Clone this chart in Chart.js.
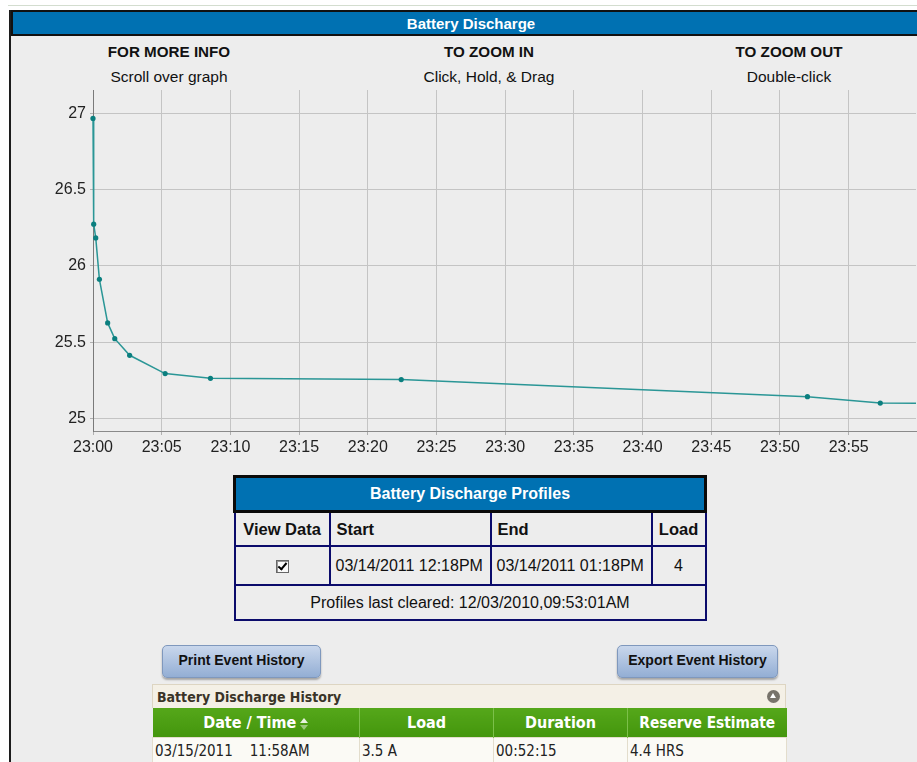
<!DOCTYPE html>
<html>
<head>
<meta charset="utf-8">
<script src="https://cdn.jsdelivr.net/npm/chart.js@4.4.1/dist/chart.umd.min.js"></script>
<style>
html,body{margin:0;padding:0;background:#fff;overflow:hidden;width:917px;height:762px;}
body{position:relative;font-family:"Liberation Sans",Arial,sans-serif;}
.abs{position:absolute;}
#topline{left:8px;top:5px;width:920px;height:1px;background:#d3ddcf;}
#frame{left:9px;top:10px;width:930px;height:800px;background:#ededed;border-left:2px solid #1c1c1c;}
#hdr{left:11px;top:10px;width:916px;height:22px;background:#0071b2;border:2px solid #111;border-right:none;color:#fff;font-weight:bold;font-size:15px;line-height:23px;text-align:center;}
.hint{width:240px;text-align:center;color:#111;}
.hint b{display:block;font-size:15.2px;line-height:18px;}
.hint span{display:block;font-size:15.5px;line-height:18px;margin-top:7px;}
#chartBox{left:11px;top:86px;width:909px;height:371px;}
#prof{left:233px;top:475px;width:471px;height:146px;}
#prof table{border-collapse:collapse;table-layout:fixed;width:471px;height:146px;border:2px solid #0b0b6b;font-size:16px;color:#111;}
#prof td{border:2px solid #0b0b6b;padding:0 6px;white-space:nowrap;}
#prof .ph{background:#0071b2;color:#fff;font-weight:bold;text-align:center;border:3px solid #0a0a0a;height:32px;}
#prof .ch td{font-weight:bold;height:32px;font-size:16.5px;}
#prof .dr td{height:37px;}
.cb{display:inline-block;width:11px;height:11px;border:1px solid #666;background:#fafafa;position:relative;vertical-align:middle;box-shadow:inset 1px 1px 0 #999;}
.cb:after{content:"";position:absolute;left:3px;top:0px;width:3px;height:7px;border:solid #000;border-width:0 2px 2px 0;transform:rotate(40deg);}
.btn{height:31px;border:1px solid #7f98bd;border-radius:5px;background:linear-gradient(#c9d7ec,#93aed4);box-shadow:0 2px 2px rgba(0,0,0,0.3);font-family:"Liberation Sans Narrow","Liberation Sans",Arial,sans-serif;font-weight:bold;font-size:14px;color:#111;text-align:center;line-height:29px;}
#hist{left:152px;top:684px;width:634px;font-family:"DejaVu Sans Condensed","DejaVu Sans",sans-serif;}
#htitle{height:23px;background:#f4f0e6;border:1px solid #ddd5c2;border-bottom:none;font-weight:bold;font-size:14px;color:#3a3428;line-height:24px;padding-left:4px;position:relative;}
#htitle i{position:absolute;right:5px;top:5px;width:13px;height:13px;border-radius:50%;background:#77736b;}
#htitle i:after{content:"";position:absolute;left:3px;top:3px;border-left:3.5px solid transparent;border-right:3.5px solid transparent;border-bottom:5px solid #fff;}
#hist table{border-collapse:collapse;table-layout:fixed;width:634px;}
#hist th{background:linear-gradient(#55a71a,#44960d);color:#fff;font-size:16px;font-weight:bold;height:29px;padding:0;border-left:1px solid #7cc04a;}
#hist td{background:#fbfaf5;border:1px solid #e3ddcc;font-size:15px;color:#222;height:25px;padding:0 0 0 2px;white-space:nowrap;}
.sort{display:inline-block;width:8px;height:12px;position:relative;vertical-align:middle;margin-left:4px;}
.sort:before{content:"";position:absolute;left:0;top:0;border-left:4px solid transparent;border-right:4px solid transparent;border-bottom:5px solid #e8f2e0;}
.sort:after{content:"";position:absolute;left:0;top:7px;border-left:4px solid transparent;border-right:4px solid transparent;border-top:5px solid #9cc87c;}
</style>
</head>
<body>
<div id="topline" class="abs"></div>
<div id="frame" class="abs"></div>
<div id="hdr" class="abs">Battery Discharge</div>

<div class="abs hint" style="left:49px;top:43px;"><b>FOR MORE INFO</b><span>Scroll over graph</span></div>
<div class="abs hint" style="left:369px;top:43px;"><b>TO ZOOM IN</b><span>Click, Hold, &amp; Drag</span></div>
<div class="abs hint" style="left:669px;top:43px;"><b>TO ZOOM OUT</b><span>Double-click</span></div>

<div id="chartBox" class="abs"><canvas id="c" width="909" height="371"></canvas></div>

<div id="prof" class="abs">
<table>
<colgroup><col style="width:95px"><col style="width:161px"><col style="width:161px"><col style="width:54px"></colgroup>
<tr><td colspan="4" class="ph">Battery Discharge Profiles</td></tr>
<tr class="ch"><td style="text-align:center;padding:0">View Data</td><td>Start</td><td>End</td><td style="text-align:center;padding:0">Load</td></tr>
<tr class="dr"><td style="text-align:center"><span class="cb"></span></td><td style="padding:0 0 0 5px">03/14/2011 12:18PM</td><td style="padding:0 0 0 5px">03/14/2011 01:18PM</td><td style="text-align:center">4</td></tr>
<tr><td colspan="4" style="text-align:center;">Profiles last cleared: 12/03/2010,09:53:01AM</td></tr>
</table>
</div>

<div class="abs btn" style="left:162px;top:645px;width:157px;">Print Event History</div>
<div class="abs btn" style="left:617px;top:645px;width:159px;">Export Event History</div>

<div id="hist" class="abs">
<div id="htitle">Battery Discharge History<i></i></div>
<table>
<colgroup><col style="width:207px"><col style="width:134px"><col style="width:134px"><col style="width:159px"></colgroup>
<tr><th style="border-left:none">Date / Time<span class="sort"></span></th><th>Load</th><th>Duration</th><th style="font-size:15.3px">Reserve Estimate</th></tr>
<tr><td>03/15/2011<span style="display:inline-block;width:17px"></span>11:58AM</td><td>3.5 A</td><td>00:52:15</td><td>4.4 HRS</td></tr>
</table>
</div>

<script>
// ---- data ----
const sampleTimes = ["23:00:00","23:00:03","23:00:12","23:00:28","23:01:04","23:01:35","23:02:40","23:05:15","23:08:33","23:22:26","23:52:00","23:57:18","00:02:10"];
const voltages    = [26.967, 26.274, 26.184, 25.913, 25.627, 25.524, 25.415, 25.295, 25.264, 25.256, 25.144, 25.102, 25.100];
const yTickValues = [25, 25.5, 26, 26.5, 27];
const xTickMinutes = [0,5,10,15,20,25,30,35,40,45,50,55];

function toMinutes(t){
  const p = t.split(":").map(Number);
  let h = p[0]; if (h < 23) h += 24;
  return (h-23)*60 + p[1] + p[2]/60;
}
const points = sampleTimes.map((t,i)=>({x:toMinutes(t), y:voltages[i]}));

const tickFont = {family:"'Liberation Sans', Arial, sans-serif", size:16};
new Chart(document.getElementById('c'), {
  type:'line',
  data:{datasets:[{
    data:points,
    borderColor:'#2a9696',
    backgroundColor:'#0b7f7f',
    pointBackgroundColor:'#0b7f7f',
    pointBorderColor:'#0b7f7f',
    borderWidth:1.5,
    pointRadius:2.6,
    pointBorderWidth:0,
    tension:0,
    clip:{left:6,top:6,right:0,bottom:6}
  }]},
  options:{
    responsive:false,
    animation:false,
    devicePixelRatio:1,
    events:[],
    layout:{padding:{top:4,left:0,right:0,bottom:0}},
    plugins:{legend:{display:false},tooltip:{enabled:false},title:{display:false}},
    scales:{
      x:{
        type:'linear', min:0, max:59.9,
        afterFit:s=>{s.height=26; s.paddingLeft=0; s.paddingRight=0;},
        afterBuildTicks:s=>{s.ticks = xTickMinutes.map(v=>({value:v}));},
        grid:{color:'#c4c4c4', lineWidth:1, tickLength:4, tickColor:'#b0b0b0'},
        border:{display:true, color:'#8a8a8a', width:1},
        ticks:{color:'#222', font:tickFont, padding:3, maxRotation:0, autoSkip:false,
          callback:v=>'23:'+String(v).padStart(2,'0')}
      },
      y:{
        type:'linear', min:24.919, max:27.153,
        afterFit:s=>{s.width=82; s.paddingTop=0; s.paddingBottom=0;},
        afterBuildTicks:s=>{s.ticks = yTickValues.map(v=>({value:v}));},
        grid:{color:'#c4c4c4', lineWidth:1, tickLength:3, tickColor:'#b0b0b0'},
        border:{display:true, color:'#7a7a7a', width:1},
        ticks:{color:'#222', font:tickFont, padding:4, callback:v=>String(v)}
      }
    }
  }
});
</script>
</body>
</html>
